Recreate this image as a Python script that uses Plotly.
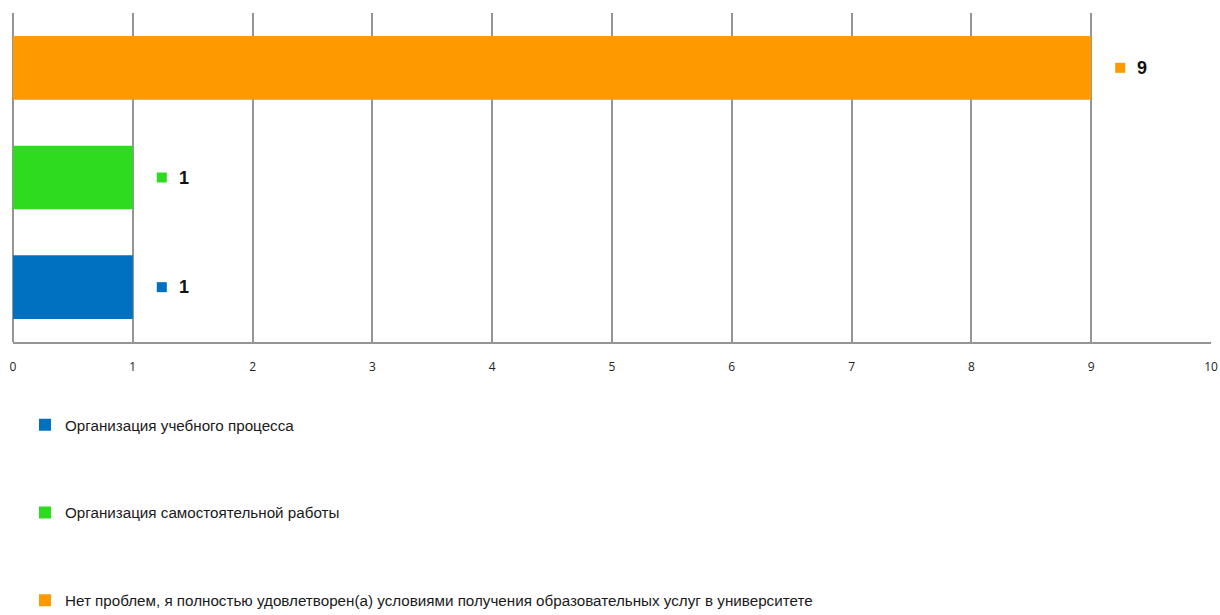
import plotly.graph_objects as go

categories = [
    "Организация учебного процесса",
    "Организация самостоятельной работы",
    "Нет проблем, я полностью удовлетворен(а) условиями получения образовательных услуг в университете",
]
values = [1, 1, 9]
colors = ["#0070C0", "#2EDB1E", "#FF9900"]
x_ticks = list(range(0, 11))

fig = go.Figure()
for i, (cat, val, col) in enumerate(zip(categories, values, colors)):
    fig.add_trace(go.Bar(
        x=[val], y=[cat], orientation="h", name=cat,
        marker=dict(color=col, line=dict(width=0)),
        width=0.58, legendgroup=f"g{i}", hoverinfo="x+name",
    ))
    fig.add_shape(
        type="rect", xref="x", yref="y",
        xsizemode="pixel", ysizemode="pixel",
        xanchor=val, yanchor=cat,
        x0=24, x1=34, y0=-5, y1=5,
        fillcolor=col, line=dict(width=0), layer="above",
    )
    fig.add_annotation(
        x=val, y=cat, xref="x", yref="y", text=f"<b>{val}</b>",
        showarrow=False, xanchor="left", yanchor="middle", xshift=44,
        font=dict(family="Liberation Sans, Arial", size=18, color="#111111"),
    )

fig.update_layout(
    width=1220, height=615,
    margin=dict(l=13, r=9, t=13, b=273, autoexpand=False),
    paper_bgcolor="white", plot_bgcolor="white",
    barmode="overlay",
    showlegend=True,
    legend=dict(
        orientation="v", x=0.01, xanchor="left",
        yref="container", y=0.336, yanchor="top",
        traceorder="grouped", tracegroupgap=65, itemwidth=30,
        font=dict(family="Liberation Sans, Arial", size=15.2, color="#1a1a1a"),
        bgcolor="rgba(0,0,0,0)",
    ),
    xaxis=dict(
        range=[0, 10], tickvals=x_ticks, showgrid=True, gridcolor="#959595", gridwidth=2,
        zeroline=True, zerolinecolor="#959595", zerolinewidth=2,
        showline=True, linecolor="#959595", linewidth=2, mirror=False,
        ticks="", ticklabelstandoff=13, automargin=False,
        tickfont=dict(family="Open Sans, DejaVu Sans", size=12, color="#222222"),
        fixedrange=True,
    ),
    yaxis=dict(
        categoryorder="array", categoryarray=categories,
        showticklabels=False, showgrid=False, zeroline=False, showline=False,
        range=[-0.5, 2.5], fixedrange=True, automargin=False,
    ),
)

fig.write_html(
    "out.html",
    config={"displayModeBar": False},
    post_script="document.body.style.margin='0';document.body.style.overflow='hidden';",
)
